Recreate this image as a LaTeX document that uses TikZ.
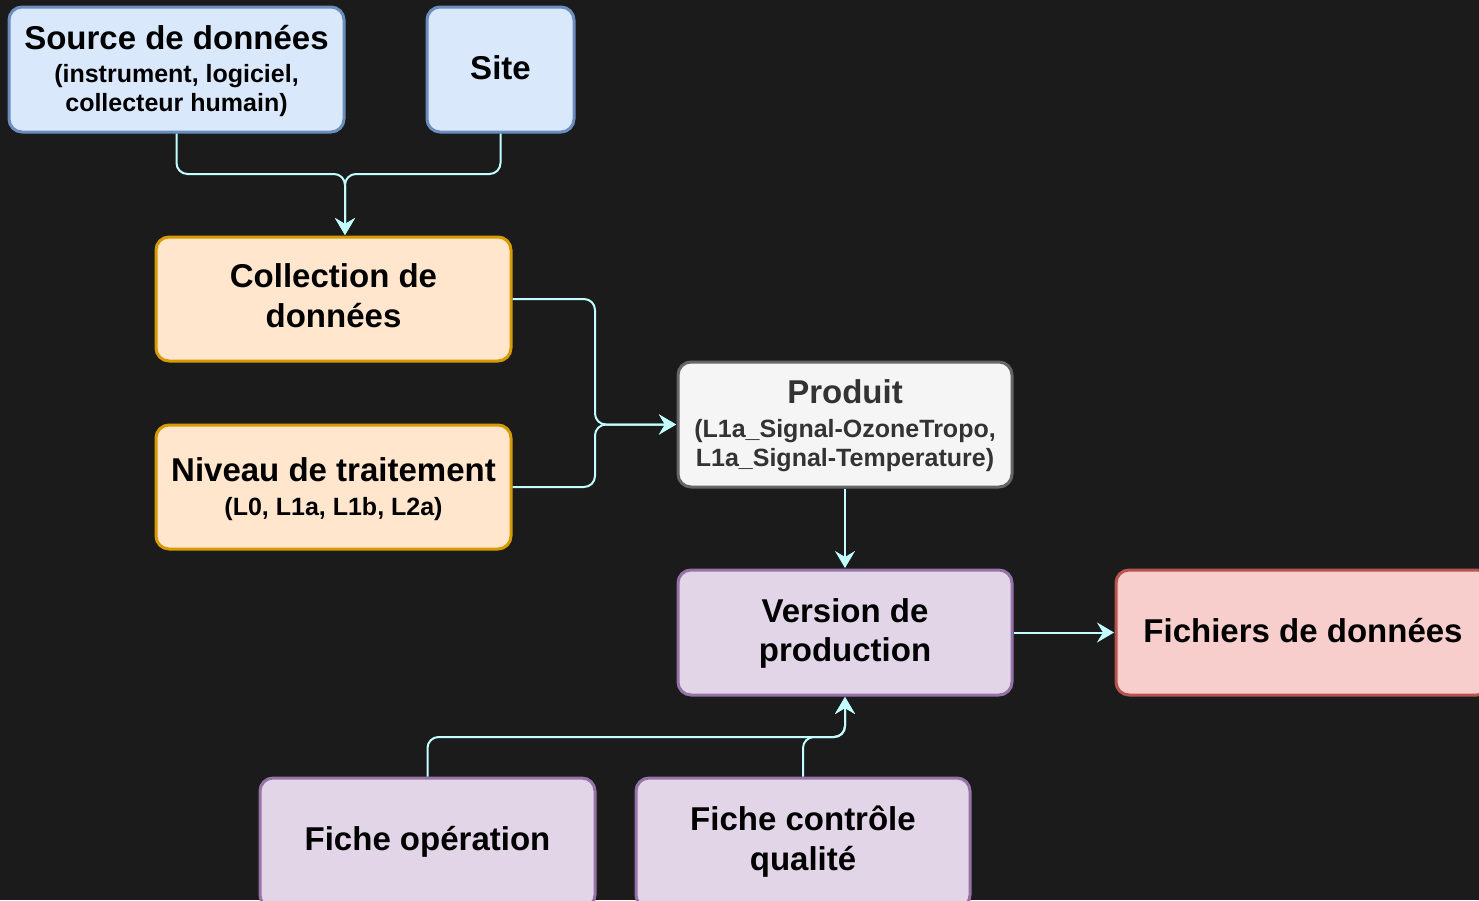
\documentclass[tikz,border=0pt]{standalone}
\usepackage{fontspec}
\setmainfont{Liberation Sans}
\usetikzlibrary{arrows.meta}
\definecolor{bg}{HTML}{1B1B1B}
\definecolor{conncol}{HTML}{C2FFFF}
\definecolor{bluefill}{HTML}{DAE8FC}\definecolor{bluedraw}{HTML}{6C8EBF}
\definecolor{orfill}{HTML}{FFE6CC}\definecolor{ordraw}{HTML}{D79B00}
\definecolor{grfill}{HTML}{F5F5F5}\definecolor{grdraw}{HTML}{666666}
\definecolor{pufill}{HTML}{E1D5E7}\definecolor{pudraw}{HTML}{9673A6}
\definecolor{refill}{HTML}{F8CECC}\definecolor{redraw}{HTML}{B85450}
\definecolor{greytext}{HTML}{333333}
\tikzset{
  box/.style={rectangle, rounded corners=13pt, line width=3pt, inner sep=0pt},
  bluebox/.style={box, fill=bluefill, draw=bluedraw},
  orbox/.style={box, fill=orfill, draw=ordraw},
  grbox/.style={box, fill=grfill, draw=grdraw},
  pubox/.style={box, fill=pufill, draw=pudraw},
  rebox/.style={box, fill=refill, draw=redraw},
  maintxt/.style={font=\fontsize{33}{40}\selectfont\bfseries, inner sep=0pt, anchor=base},
  subtxt/.style={font=\fontsize{25}{30}\selectfont\bfseries, inner sep=0pt, anchor=base},
  conn/.style={draw=conncol, line width=2pt, rounded corners=11pt,
    -{Stealth[length=17pt, width=20pt, inset=6pt]}, shorten >=0.5pt},
}
\begin{document}
\begin{tikzpicture}[x=1pt, y=-1pt]
\useasboundingbox (0,0) rectangle (1479,900);
\fill[bg] (0,0) rectangle (1479,900);
\clip (0,0) rectangle (1479,900);

% boxes
\node[bluebox, minimum width=335pt, minimum height=125pt] (src) at (176.5,69.5) {};
\node[bluebox, minimum width=147pt, minimum height=125pt] (site) at (500.5,69.5) {};
\node[orbox, minimum width=355pt, minimum height=124pt] (coll) at (333.5,299) {};
\node[orbox, minimum width=355pt, minimum height=124pt] (niv) at (333.5,487) {};
\node[grbox, minimum width=334pt, minimum height=125pt] (prod) at (845,424.5) {};
\node[pubox, minimum width=334pt, minimum height=125pt] (ver) at (845,632.5) {};
\node[rebox, minimum width=374pt, minimum height=125pt] (fich) at (1303,632.5) {};
\node[pubox, minimum width=335pt, minimum height=130pt] (fop) at (427.5,843) {};
\node[pubox, minimum width=334pt, minimum height=130pt] (fcq) at (803,843) {};

% texts
\node[maintxt] (src-a) at (176.5,49) {Source de données};
\node[subtxt] (src-b) at (176.5,82) {(instrument, logiciel,};
\node[subtxt] (src-c) at (176.5,111) {collecteur humain)};
\node[maintxt] (site-a) at (500.5,79) {Site};
\node[maintxt] (coll-a) at (333.5,287) {Collection de};
\node[maintxt] (coll-b) at (333.5,327) {données};
\node[maintxt] (niv-a) at (333.5,481) {Niveau de traitement};
\node[subtxt] (niv-b) at (333.5,515) {(L0, L1a, L1b, L2a)};
\node[maintxt, text=greytext] (prod-a) at (845,403) {Produit};
\node[subtxt, text=greytext] (prod-b) at (845,437) {(L1a\_Signal-OzoneTropo,};
\node[subtxt, text=greytext] (prod-c) at (845,466) {L1a\_Signal-Temperature)};
\node[maintxt] (ver-a) at (845,622) {Version de};
\node[maintxt] (ver-b) at (845,661) {production};
\node[maintxt] (fich-a) at (1303,642) {Fichiers de données};
\node[maintxt] (fop-a) at (427.5,850) {Fiche opération};
\node[maintxt] (fcq-a) at (803,830) {Fiche contrôle};
\node[maintxt] (fcq-b) at (803,870) {qualité};

% junctions
\coordinate (m1) at (345,174);
\coordinate (m2) at (595,424.5);
\coordinate (m3) at (845,737);

% connectors
\draw[conn] (src.south) |- (m1) -- (m1 |- coll.north);
\draw[conn] (site.south) |- (m1) -- (m1 |- coll.north);
\draw[conn] (coll.east) -| (m2) -- (prod.west);
\draw[conn] (niv.east) -| (m2) -- (prod.west);
\draw[conn] (prod.south) -- (ver.north);
\draw[conn] (ver.east) -- (fich.west);
\draw[conn] (fop.north) |- (m3) -- (ver.south);
\draw[conn] (fcq.north) |- (m3) -- (ver.south);
\end{tikzpicture}
\end{document}
